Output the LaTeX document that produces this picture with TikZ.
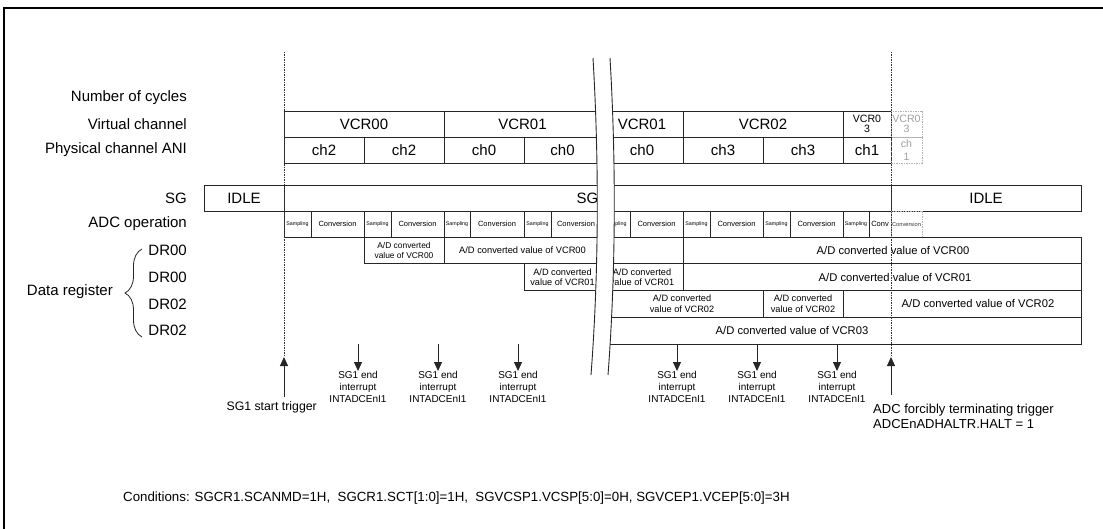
\documentclass[tikz,border=0pt]{standalone}
\usepackage{fontspec}
\setmainfont{Liberation Sans}
\usetikzlibrary{arrows.meta,decorations.pathreplacing}

\begin{document}
\begin{tikzpicture}[
  x=1pt, y=-1pt,
  lbl/.style={anchor=east, inner sep=0pt, font=\fontsize{15}{18}\selectfont},
  cell/.style={draw=black!85, line width=0.9pt, anchor=north west, outer sep=0pt, inner sep=0pt, minimum height=26, align=center, font=\fontsize{15}{18}\selectfont},
  dcell/.style={cell, minimum height=26.75, font=\fontsize{11.2}{13}\selectfont},
  dsmall/.style={dcell, font=\fontsize{9.2}{10.6}\selectfont},
  smp/.style={cell, font=\fontsize{5.3}{6}\selectfont},
  cnv/.style={cell, font=\fontsize{7.5}{9}\selectfont},
  ghost/.style={cell, draw=gray!60, dash pattern=on 1.5pt off 1pt, text=gray!75},
  vtxt/.style={inner sep=0pt, font=\fontsize{11.2}{13}\selectfont},
  vline/.style={black!80, line width=0.8pt, dash pattern=on 1.5pt off 1pt},
  trig/.style={black!85, line width=1pt, -{Triangle[length=9pt,width=8pt]}},
  irq/.style={align=center, anchor=north, inner sep=0pt, font=\fontsize{10}{12}\selectfont},
  brk/.style={black!85, line width=0.9pt},
]
\useasboundingbox (0,0) rectangle (1103,529);
% frame
\draw[line width=2.5pt] (4,529) -- (4,8) -- (1103,8);

% row labels
\node[lbl] (lcyc) at (187,98) {Number of cycles};
\node[lbl] (lvc) at (187,124) {Virtual channel};
\node[lbl] (lpc) at (187,150) {Physical channel ANI};
\node[lbl] (lsg) at (187,198) {SG};
\node[lbl] (ladc) at (187,224) {ADC operation};
\node[lbl] (ldr1) at (187,250.4) {DR00};
\node[lbl] (ldr2) at (187,277.1) {DR00};
\node[lbl] (ldr3) at (187,303.9) {DR02};
\node[lbl] (ldr4) at (187,330.6) {DR02};
\node[lbl] (ldreg) at (113,292) {Data register};
\draw[black!85, line width=0.8pt, decorate, decoration={brace, amplitude=17pt}] (142,337) -- (142,249);

% virtual channel
\node[cell, minimum width=160] (vc1) at (284,111) {VCR00};
\node[cell, minimum width=157] (vc2) at (444,111) {VCR01};
\node[cell, minimum width=82] (vc3) at (601,111) {VCR01};
\node[cell, minimum width=160] (vc4) at (683,111) {VCR02};
\node[cell, minimum width=48, font=\fontsize{10.6}{10.6}\selectfont] (vc5) at (843,111) {VCR0\\3};
\node[ghost, minimum width=31, font=\fontsize{10.6}{10.6}\selectfont] (vc6) at (891,111) {VCR0\\3};

% physical channel
\node[cell, minimum width=80] (pc1) at (284,137) {ch2};
\node[cell, minimum width=80] (pc2) at (364,137) {ch2};
\node[cell, minimum width=80] (pc3) at (444,137) {ch0};
\node[cell, minimum width=77] (pc4) at (524,137) {ch0};
\node[cell, minimum width=82] (pc5) at (601,137) {ch0};
\node[cell, minimum width=80] (pc6) at (683,137) {ch3};
\node[cell, minimum width=80] (pc7) at (763,137) {ch3};
\node[cell, minimum width=48] (pc8) at (843,137) {ch1};
\node[ghost, minimum width=31, font=\fontsize{10.6}{13}\selectfont] (pc9) at (891,137) {ch\\1};

% SG
\node[cell, minimum width=80] (sg0) at (204,185) {IDLE};
\node[cell, minimum width=607] (sg1) at (284,185) {SG};
\node[cell, minimum width=190] (sg2) at (891,185) {IDLE};

% ADC operation
\node[smp, minimum width=27] (a1) at (284,211) {Sampling};
\node[cnv, minimum width=53] (a2) at (311,211) {Conversion};
\node[smp, minimum width=27] (a3) at (364,211) {Sampling};
\node[cnv, minimum width=53] (a4) at (391,211) {Conversion};
\node[smp, minimum width=26] (a5) at (444,211) {Sampling};
\node[cnv, minimum width=54] (a6) at (470,211) {Conversion};
\node[smp, minimum width=27] (a7) at (524,211) {Sampling};
\node[cnv, minimum width=50] (a8) at (551,211) {Conversion};
\node[smp, minimum width=29] (a9) at (601,211) {Sampling};
\node[cnv, minimum width=53] (a10) at (630,211) {Conversion};
\node[smp, minimum width=27] (a11) at (683,211) {Sampling};
\node[cnv, minimum width=53] (a12) at (710,211) {Conversion};
\node[smp, minimum width=27] (a13) at (763,211) {Sampling};
\node[cnv, minimum width=53] (a14) at (790,211) {Conversion};
\node[smp, minimum width=26] (a15) at (843,211) {Sampling};
\node[cnv, minimum width=22] (a16) at (869,211) {Conv};
\node[ghost, minimum width=31, text=black!80, font=\fontsize{5.7}{7}\selectfont] (a17) at (891,211) {Conversion};

% data registers
\node[dsmall, minimum width=80, font=\fontsize{8.4}{9.8}\selectfont] (d11) at (364,237) {A/D converted\\value of VCR00};
\node[dcell, minimum width=157, font=\fontsize{9.3}{11}\selectfont] (d12) at (444,237) {A/D converted value of VCR00};
\node[dcell, minimum width=82] (d13) at (601,237) {};
\node[dcell, minimum width=398] (d14) at (683,237) {};
\node[vtxt] (t14) at (893,250.4) {A/D converted value of VCR00};

\node[dsmall, minimum width=77] (d21) at (524,263.75) {A/D converted\\value of VCR01};
\node[dsmall, minimum width=82] (d22) at (601,263.75) {A/D converted\\value of VCR01};
\node[dcell, minimum width=398] (d23) at (683,263.75) {};
\node[vtxt] (t23) at (895,277.1) {A/D converted value of VCR01};

\node[dsmall, minimum width=162] (d31) at (601,290.5) {A/D converted\\value of VCR02};
\node[dsmall, minimum width=80] (d32) at (763,290.5) {A/D converted\\value of VCR02};
\node[dcell, minimum width=238] (d33) at (843,290.5) {};
\node[vtxt] (t33) at (978,303.9) {A/D converted value of VCR02};

\node[dcell, minimum width=480] (d41) at (601,317.25) {};
\node[vtxt] (t41) at (792,330.6) {A/D converted value of VCR03};

% time break
\fill[white] (593,58) .. controls (599,160) and (599,270) .. (591,375) -- (608,375) .. controls (616,270) and (616,160) .. (610,58) -- cycle;
\draw[brk] (593,58) .. controls (599,160) and (599,270) .. (591,375);
\draw[brk] (610,58) .. controls (616,160) and (616,270) .. (608,375);

% start / stop markers
\coordinate (v1t) at (284,52);
\coordinate (v1b) at (284,357);
\coordinate (v2t) at (891,52);
\coordinate (v2b) at (891,357);
\draw[vline] (v1t) -- (v1b);
\draw[vline] (v2t) -- (v2b);

\coordinate (sa) at (284,397);
\draw[trig] (sa) -- (v1b);
\node[anchor=east, inner sep=0pt, font=\fontsize{12.3}{14}\selectfont] (stl) at (317,407) {SG1 start trigger};

\coordinate (fa) at (891,395);
\draw[trig] (fa) -- (v2b);
\node[anchor=north west, align=left, inner sep=0pt, font=\fontsize{13}{15}\selectfont] (fl) at (873,404) {ADC forcibly terminating trigger\\ADCEnADHALTR.HALT = 1};

% SG1 end interrupts
\coordinate (e1t) at (358,344);
\coordinate (e2t) at (438,344);
\coordinate (e3t) at (518,344);
\coordinate (e4t) at (677,344);
\coordinate (e5t) at (757,344);
\coordinate (e6t) at (837,344);
\node[irq] (e1) at (358,371) {SG1 end\\interrupt\\INTADCEnI1};
\node[irq] (e2) at (438,371) {SG1 end\\interrupt\\INTADCEnI1};
\node[irq] (e3) at (518,371) {SG1 end\\interrupt\\INTADCEnI1};
\node[irq] (e4) at (677,371) {SG1 end\\interrupt\\INTADCEnI1};
\node[irq] (e5) at (757,371) {SG1 end\\interrupt\\INTADCEnI1};
\node[irq] (e6) at (837,371) {SG1 end\\interrupt\\INTADCEnI1};
\draw[trig] (e1t) -- (e1.north);
\draw[trig] (e2t) -- (e2.north);
\draw[trig] (e3t) -- (e3.north);
\draw[trig] (e4t) -- (e4.north);
\draw[trig] (e5t) -- (e5.north);
\draw[trig] (e6t) -- (e6.north);

% conditions
\node[anchor=west, inner sep=0pt, font=\fontsize{13.3}{16}\selectfont] (cond) at (123,498) {Conditions: SGCR1.SCANMD=1H,\ \ SGCR1.SCT[1:0]=1H,\ \ SGVCSP1.VCSP[5:0]=0H, SGVCEP1.VCEP[5:0]=3H};
\end{tikzpicture}
\end{document}
